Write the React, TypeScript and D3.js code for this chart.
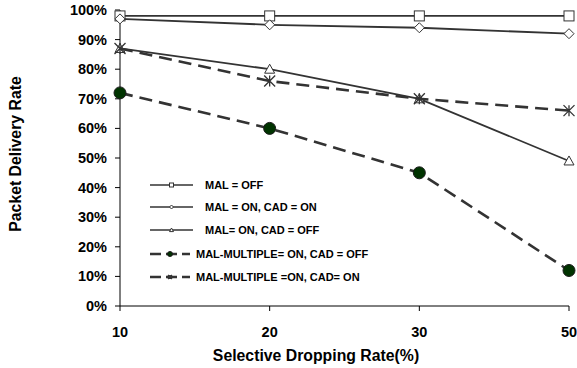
import * as d3 from "d3";

const W = 577;
const H = 368;
const M = { top: 10, right: 8, bottom: 62, left: 120 };

const categories = ["10", "20", "30", "50"];
const yTicks = [0, 10, 20, 30, 40, 50, 60, 70, 80, 90, 100];

const malOff = [98, 98, 98, 98];
const malOnCadOn = [97, 95, 94, 92];
const malOnCadOff = [87, 80, 70, 49];
const multiCadOff = [72, 60, 45, 12];
const multiCadOn = [87, 76, 70, 66];

const seriesNames = [
  "MAL = OFF",
  "MAL = ON, CAD = ON",
  "MAL= ON, CAD = OFF",
  "MAL-MULTIPLE= ON, CAD = OFF",
  "MAL-MULTIPLE =ON, CAD= ON",
];

type Marker = "square" | "diamond" | "triangle" | "circle" | "star";

const series: { name: string; values: number[]; marker: Marker; dashed: boolean }[] = [
  { name: seriesNames[0], values: malOff, marker: "square", dashed: false },
  { name: seriesNames[1], values: malOnCadOn, marker: "diamond", dashed: false },
  { name: seriesNames[2], values: malOnCadOff, marker: "triangle", dashed: false },
  { name: seriesNames[3], values: multiCadOff, marker: "circle", dashed: true },
  { name: seriesNames[4], values: multiCadOn, marker: "star", dashed: true },
];

const LINE = "#333333";
const FONT = "'Liberation Sans', Arial, sans-serif";

function MarkerShape({ kind, x, y, s }: { kind: Marker; x: number; y: number; s: number }) {
  const h = s / 2;
  if (kind === "square")
    return <rect x={x - h} y={y - h} width={s} height={s} fill="#fff" stroke={LINE} strokeWidth={1} />;
  if (kind === "diamond")
    return (
      <path
        d={`M${x},${y - h}L${x + h},${y}L${x},${y + h}L${x - h},${y}Z`}
        fill="#fff"
        stroke={LINE}
        strokeWidth={1}
      />
    );
  if (kind === "triangle")
    return (
      <path
        d={`M${x},${y - h}L${x + h},${y + h * 0.8}L${x - h},${y + h * 0.8}Z`}
        fill="#fff"
        stroke={LINE}
        strokeWidth={1}
      />
    );
  if (kind === "circle")
    return <circle cx={x} cy={y} r={h} fill="#003300" stroke="#1a1a1a" strokeWidth={1} />;
  return (
    <path
      d={`M${x - h},${y - h}L${x + h},${y + h}M${x + h},${y - h}L${x - h},${y + h}M${x},${y - h}L${x},${y + h}`}
      fill="none"
      stroke={LINE}
      strokeWidth={1.3}
    />
  );
}

export default function App() {
  const x = d3.scalePoint<string>().domain(categories).range([M.left, W - M.right]).padding(0);
  const y = d3.scaleLinear().domain([0, 100]).range([H - M.bottom, M.top]);
  const line = d3
    .line<number>()
    .x((_d, i) => x(categories[i])!)
    .y((d) => y(d));

  const bottom = H - M.bottom;
  const legendRows = [185, 207, 230, 254, 277];

  return (
    <svg
      width={W}
      height={H}
      style={{ position: "absolute", left: 0, top: 0, background: "#fff" }}
      fontFamily={FONT}
    >
      {/* y axis */}
      <line x1={M.left} x2={M.left} y1={M.top} y2={bottom} stroke="#000" />
      {yTicks.map((t) => (
        <g key={t}>
          <line x1={M.left - 5} x2={M.left} y1={y(t)} y2={y(t)} stroke="#000" />
          <text
            x={M.left - 13}
            y={y(t)}
            dy="0.35em"
            textAnchor="end"
            fontSize={14.5}
            fontWeight="bold"
          >
            {t}%
          </text>
        </g>
      ))}
      {/* x axis */}
      <line x1={M.left} x2={W - M.right} y1={bottom} y2={bottom} stroke="#000" />
      {categories.map((c) => (
        <g key={c}>
          <line x1={x(c)} x2={x(c)} y1={bottom} y2={bottom + 5} stroke="#000" />
          <text x={x(c)} y={bottom + 26} dy="0.35em" textAnchor="middle" fontSize={14.5} fontWeight="bold">
            {c}
          </text>
        </g>
      ))}
      <text x={316} y={355} dy="0.35em" textAnchor="middle" fontSize={15.8} fontWeight="bold">
        Selective Dropping Rate(%)
      </text>
      <text
        transform="translate(15,154) rotate(-90)"
        dy="0.35em"
        textAnchor="middle"
        fontSize={15.8}
        fontWeight="bold"
      >
        Packet Delivery Rate
      </text>

      {/* series */}
      {series.map((s) => (
        <g key={s.name}>
          <path
            d={line(s.values) ?? ""}
            fill="none"
            stroke={LINE}
            strokeWidth={s.dashed ? 2.6 : 1.8}
            strokeDasharray={s.dashed ? "13,7" : undefined}
          />
          {s.values.map((v, i) => (
            <MarkerShape
              key={i}
              kind={s.marker}
              x={x(categories[i])!}
              y={y(v)}
              s={s.marker === "circle" ? 12 : s.marker === "star" ? 11 : 10}
            />
          ))}
        </g>
      ))}

      {/* legend */}
      {series.map((s, i) => {
        const ly = legendRows[i];
        const x0 = 150;
        const x1 = s.dashed ? 190 : 193;
        const tx = s.dashed ? 196 : 205;
        return (
          <g key={s.name}>
            <line
              x1={x0}
              x2={x1}
              y1={ly}
              y2={ly}
              stroke={LINE}
              strokeWidth={s.dashed ? 2.5 : 1.3}
              strokeDasharray={s.dashed ? "11,5" : undefined}
            />
            <MarkerShape kind={s.marker} x={(x0 + x1) / 2} y={ly} s={s.marker === "circle" ? 5 : 4} />
            <text x={tx} y={ly} dy="0.35em" fontSize={11} fontWeight="bold">
              {s.name}
            </text>
          </g>
        );
      })}
    </svg>
  );
}
